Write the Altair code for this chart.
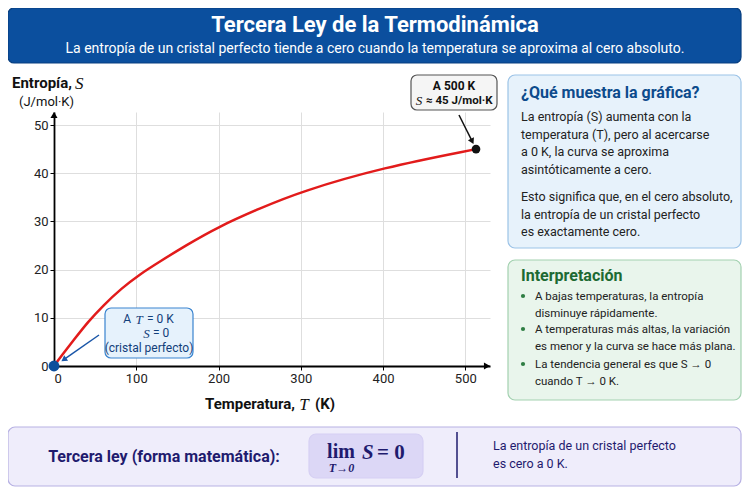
import math

import altair as alt
import pandas as pd

# entropy curve
TEMP_K = [0, 10, 25, 41, 60, 82, 104, 128, 160, 200, 250, 300, 400, 513]
ENTROPY = [0, 2.3, 5.6, 9.1, 12.6, 16.1, 19.0, 21.6, 25.0, 28.9, 32.7, 36.2, 41.2, 45.0]

# highlighted points
MARK_T = [0, 513]
MARK_S = [0, 45]
MARK_KIND = ["cero", "500 K"]

X_TICKS = [0, 100, 200, 300, 400, 500]
Y_TICKS = [0, 10, 20, 30, 40, 50]

TITLE = "Tercera Ley de la Termodinámica"
SUBTITLE = ("La entropía de un cristal perfecto tiende a cero cuando la "
            "temperatura se aproxima al cero absoluto.")

INFO_TITLE = "¿Qué muestra la gráfica?"
INFO_P1 = ["La entropía (S) aumenta con la",
           "temperatura (T), pero al acercarse",
           "a 0 K, la curva se aproxima",
           "asintóticamente a cero."]
INFO_P2 = ["Esto significa que, en el cero absoluto,",
           "la entropía de un cristal perfecto",
           "es exactamente cero."]

INTERP_TITLE = "Interpretación"
BULLETS = [["A bajas temperaturas, la entropía", "disminuye rápidamente."],
           ["A temperaturas más altas, la variación", "es menor y la curva se hace más plana."],
           ["La tendencia general es que S → 0", "cuando T → 0 K."]]

LAW_LABEL = "Tercera ley (forma matemática):"
LAW_NOTE = ["La entropía de un cristal perfecto", "es cero a 0 K."]

SANS = "Roboto"
SERIF = "Liberation Serif"
NAVY = "#1f1b6e"
OX, OY = 54, 112  # page position of the plot origin

one = pd.DataFrame({"k": [0]})


def box(x1, y1, x2, y2, fill, stroke, radius=7, width=1.2):
    return alt.Chart(one).mark_rect(
        fill=fill, stroke=stroke, strokeWidth=width, cornerRadius=radius
    ).encode(x=alt.value(x1 - OX), x2=alt.value(x2 - OX),
             y=alt.value(y1 - OY), y2=alt.value(y2 - OY))


def label(x, y, txt, size=12.5, color="#222222", weight="normal",
          align="left", font=SANS, style="normal", line_height=None):
    props = dict(text=txt, fontSize=size, color=color, fontWeight=weight,
                 align=align, font=font, fontStyle=style, baseline="alphabetic")
    if line_height:
        props["lineHeight"] = line_height
    return alt.Chart(one).mark_text(**props).encode(
        x=alt.value(x - OX), y=alt.value(y - OY + 0.35 * size))


def arrow(x1, y1, x2, y2, color, width=1.5, size=45):
    dx, dy = x2 - x1, y2 - y1
    length = math.hypot(dx, dy)
    ux, uy = dx / length, dy / length
    cx, cy = x2 - 4 * ux, y2 - 4 * uy
    angle = math.degrees(math.atan2(dx, -dy)) % 360
    line = alt.Chart(one).mark_rule(color=color, strokeWidth=width).encode(
        x=alt.value(x1 - OX), x2=alt.value(cx - OX),
        y=alt.value(y1 - OY), y2=alt.value(cy - OY))
    head = alt.Chart(one).mark_point(
        shape="triangle-up", filled=True, color=color, opacity=1,
        size=size, angle=angle
    ).encode(x=alt.value(cx - OX), y=alt.value(cy - OY))
    return [line, head]


layers = []

# header
layers += [
    box(8, 8, 741, 63, "#0b4f9e", "#083f80", radius=6),
    label(375, 24, TITLE, size=22, color="white", weight="bold", align="center"),
    label(375, 48, SUBTITLE, size=14, color="white", align="center"),
]

# info boxes on the right
layers += [
    box(508, 75, 741, 248, "#e7f2fb", "#9cc3e7"),
    label(521, 92, INFO_TITLE, size=16, color="#0d4b8c", weight="bold"),
    label(521, 117, INFO_P1, size=12.5, line_height=17.5),
    label(521, 197, INFO_P2, size=12.5, line_height=17.5),
    box(508, 260, 741, 400, "#e9f5ec", "#a3d1b0"),
    label(521, 275, INTERP_TITLE, size=16, color="#1d6a33", weight="bold"),
]
for yb, lines in zip([296, 329, 364], BULLETS):
    layers.append(alt.Chart(one).mark_circle(color="#2e7d43", opacity=1, size=18).encode(
        x=alt.value(523 - OX), y=alt.value(yb - OY)))
    layers.append(label(535, yb, lines, size=11.5, line_height=16.5))

# bottom formula strip
layers += [
    box(8, 427, 741, 486, "#efedfb", "#b7b1e3"),
    label(164, 456, LAW_LABEL, size=16, color=NAVY, weight="bold", align="center"),
    box(309, 434, 423, 478, "#dcd7f6", "#d6d0f3", radius=7),
    label(341, 451, "lim", size=20, color=NAVY, font=SERIF, weight="bold", align="center"),
    label(341.5, 468, "T→0", size=12, color=NAVY, font=SERIF, weight="bold",
          style="italic", align="center"),
    label(362, 452, "S", size=21, color=NAVY, font=SERIF, weight="bold", style="italic"),
    label(377, 452, "= 0", size=21, color=NAVY, font=SERIF, weight="bold"),
    alt.Chart(one).mark_rule(color=NAVY, strokeWidth=1.5).encode(
        x=alt.value(457 - OX), y=alt.value(432 - OY), y2=alt.value(478 - OY)),
    label(493, 446, LAW_NOTE, size=12.5, color=NAVY, line_height=18),
]

# axis titles
layers += [
    label(12, 83, "Entropía,", size=15, color="#111111", weight="bold"),
    label(75, 83, "S", size=17, color="#111111", font=SERIF, style="italic"),
    label(19, 101, "(J/mol·K)", size=13, color="#111111"),
    label(295, 404, "Temperatura,", size=15, color="#111111", weight="bold", align="right"),
    label(304, 404, "T", size=17, color="#111111", font=SERIF, style="italic", align="center"),
    label(315, 404, "(K)", size=15, color="#111111", weight="bold"),
]

# the curve with its axes
curve_df = pd.DataFrame({"T": TEMP_K, "S": ENTROPY})
x_enc = alt.X("T:Q", scale=alt.Scale(domain=[0, 530], nice=False),
              axis=alt.Axis(values=X_TICKS, title=None, grid=True))
y_enc = alt.Y("S:Q", scale=alt.Scale(domain=[0, 52.7], nice=False),
              axis=alt.Axis(values=Y_TICKS, title=None, grid=True))
curve = alt.Chart(curve_df).mark_line(
    color="#e21b1b", strokeWidth=2.5, interpolate="basis"
).encode(x=x_enc, y=y_enc)
layers.append(curve)

# axis arrowheads
layers += [
    alt.Chart(one).mark_point(shape="triangle-right", filled=True, color="black",
                              opacity=1, size=50).encode(
        x=alt.value(433), y=alt.value(366 - OY)),
    alt.Chart(one).mark_point(shape="triangle-up", filled=True, color="black",
                              opacity=1, size=50).encode(
        x=alt.value(0), y=alt.value(3)),
]

# highlighted points
pts = pd.DataFrame({"T": MARK_T, "S": MARK_S, "kind": MARK_KIND})
layers.append(alt.Chart(pts).mark_circle(opacity=1).encode(
    x="T:Q", y="S:Q",
    color=alt.Color("kind:N", scale=alt.Scale(domain=["cero", "500 K"],
                                               range=["#0d4f9c", "#111111"]), legend=None),
    size=alt.Size("kind:N", scale=alt.Scale(domain=["cero", "500 K"], range=[120, 75]),
                  legend=None),
))

# annotation at T = 0
BLUE = "#1a56a8"
layers += arrow(99, 335, 60.5, 362, BLUE)
layers += [
    box(105, 308, 193, 358, "#e6f2fc", "#3a84cf", radius=6),
    label(131, 319, "A", size=12, color="#12407a", align="right"),
    label(139, 319, "T", size=13, color="#12407a", font=SERIF, style="italic", align="center"),
    label(147, 319, "= 0 K", size=12, color="#12407a"),
    label(146.5, 333, "S", size=13, color="#12407a", font=SERIF, style="italic", align="center"),
    label(153, 333, "= 0", size=12, color="#12407a"),
    label(149, 348, "(cristal perfecto)", size=12, color="#12407a", align="center"),
]

# annotation at 500 K
layers += arrow(459, 115, 474, 145, "#111111")
layers += [
    box(411, 75, 497, 110, "#f5f5f5", "#555555", radius=6),
    label(454, 86, "A 500 K", size=12, color="#111111", weight="bold", align="center"),
    label(419, 100, "S", size=13, color="#111111", font=SERIF, style="italic", align="center"),
    label(426, 100, "≈ 45 J/mol·K", size=11.5, color="#111111", weight="bold"),
]

chart = alt.layer(*layers).properties(
    width=436,
    height=254,
    padding={"left": 46, "top": 104, "right": 252, "bottom": 126},
    autosize=alt.AutoSizeParams(type="none"),
    background="white",
).configure_view(
    stroke=None
).configure_axis(
    domainColor="black",
    domainWidth=1.8,
    tickColor="black",
    tickSize=4,
    labelFont=SANS,
    labelFontSize=13,
    labelColor="#222222",
    gridColor="#dedede",
    gridWidth=1,
)

chart.save("out.html", embed_options={"renderer": "svg", "actions": False})
